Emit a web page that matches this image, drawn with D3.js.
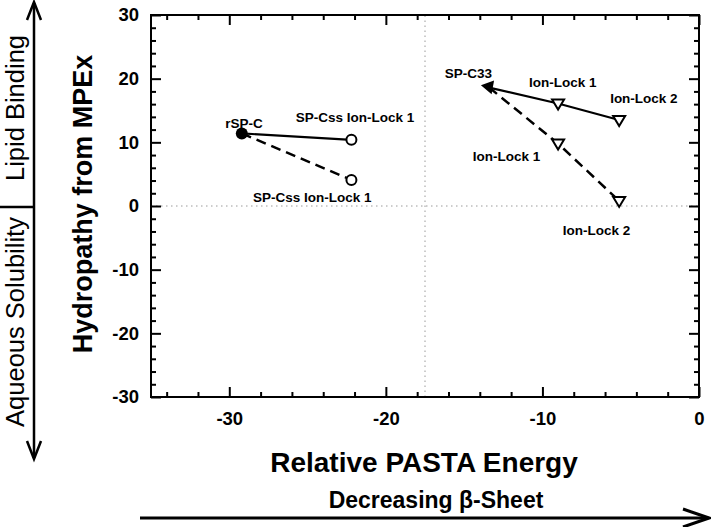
<!DOCTYPE html>
<html>
<head>
<meta charset="utf-8">
<script src="https://cdn.jsdelivr.net/npm/d3@7"></script>
<style>
  html, body { margin: 0; padding: 0; background: #fff; }
  svg { display: block; }
  text { font-family: "Liberation Sans", Arial, Helvetica, sans-serif; fill: #000; }
</style>
</head>
<body>
<svg id="chart" width="711" height="527"></svg>
<script>
// ---------------- data ----------------
const xDomain = [-35, 0];
const yDomain = [-30, 30];
const xMajorTicks = [-30, -20, -10, 0];
const xMinorTicks = [-34, -32, -28, -26, -24, -22, -18, -16, -14, -12, -8, -6, -4, -2];
const yMajorTicks = [-30, -20, -10, 0, 10, 20, 30];
const yMinorTicks = [-28, -26, -24, -22, -18, -16, -14, -12, -8, -6, -4, -2,
                     2, 4, 6, 8, 12, 14, 16, 18, 22, 24, 26, 28];
const refLineX = -17.5;
const refLineY = 0;

// SP-Css family (circles), starting at rSP-C
const cssSolidX  = [-29.2, -22.2];
const cssSolidY  = [11.4, 10.4];
const cssDashedX = [-29.2, -22.2];
const cssDashedY = [11.4, 4.1];

// SP-C33 family (triangles)
const c33SolidX  = [-13.4, -9.0, -5.1];
const c33SolidY  = [18.6, 16.1, 13.5];
const c33DashedX = [-13.4, -9.0, -5.1];
const c33DashedY = [18.6, 9.8, 0.8];

// annotation labels (text, anchor in data units)
const labelText = ["rSP-C", "SP-Css Ion-Lock 1", "SP-Css Ion-Lock 1", "SP-C33",
                   "Ion-Lock 1", "Ion-Lock 2", "Ion-Lock 1", "Ion-Lock 2"];
const labelX = [-29.06, -21.97, -24.7, -14.73, -8.7, -3.52, -12.3, -6.55];
const labelY = [13.0, 13.97, 1.46, 20.9, 19.5, 16.95, 7.85, -3.77];

const xTitle = "Relative PASTA Energy";
const yTitle = "Hydropathy from MPEx";
const bottomArrowText = "Decreasing \u03B2-Sheet";
const sideTop = "Lipid Binding";
const sideBottom = "Aqueous Solubility";

// ---------------- layout ----------------
const plot = { left: 151, right: 699, top: 15, bottom: 397 };
const svg = d3.select("#chart");

const x = d3.scaleLinear().domain(xDomain).range([plot.left, plot.right]);
const y = d3.scaleLinear().domain(yDomain).range([plot.bottom, plot.top]);
const fmt = d => String(d);

// reference dotted lines
svg.append("line")
  .attr("x1", x(refLineX)).attr("x2", x(refLineX))
  .attr("y1", y(yDomain[0])).attr("y2", y(yDomain[1]))
  .attr("stroke", "#9a9a9a").attr("stroke-width", 1).attr("stroke-dasharray", "1.5,3.5");
svg.append("line")
  .attr("x1", x(xDomain[0])).attr("x2", x(xDomain[1]))
  .attr("y1", y(refLineY)).attr("y2", y(refLineY))
  .attr("stroke", "#9a9a9a").attr("stroke-width", 1).attr("stroke-dasharray", "1.5,3.5");

// axes (ticks inward on all sides)
function styleAxis(g) {
  g.select(".domain").remove();
  g.selectAll(".tick line").attr("stroke", "#000").attr("stroke-width", 2);
  g.selectAll(".tick text")
    .style("font-size", "18.5px").style("font-weight", "bold")
    .attr("fill", "#000");
}
svg.append("g").attr("transform", `translate(0,${plot.bottom})`)
  .call(d3.axisBottom(x).tickValues(xMajorTicks).tickSizeInner(-10).tickSizeOuter(0).tickPadding(15).tickFormat(fmt))
  .call(styleAxis);
svg.append("g").attr("transform", `translate(0,${plot.bottom})`)
  .call(d3.axisBottom(x).tickValues(xMinorTicks).tickSizeInner(-5).tickSizeOuter(0).tickFormat(""))
  .call(styleAxis);
svg.append("g").attr("transform", `translate(0,${plot.top})`)
  .call(d3.axisTop(x).tickValues(xMajorTicks).tickSizeInner(-10).tickSizeOuter(0).tickFormat(""))
  .call(styleAxis);
svg.append("g").attr("transform", `translate(0,${plot.top})`)
  .call(d3.axisTop(x).tickValues(xMinorTicks).tickSizeInner(-5).tickSizeOuter(0).tickFormat(""))
  .call(styleAxis);
svg.append("g").attr("transform", `translate(${plot.left},0)`)
  .call(d3.axisLeft(y).tickValues(yMajorTicks).tickSizeInner(-10).tickSizeOuter(0).tickPadding(12).tickFormat(fmt))
  .call(styleAxis);
svg.append("g").attr("transform", `translate(${plot.left},0)`)
  .call(d3.axisLeft(y).tickValues(yMinorTicks).tickSizeInner(-5).tickSizeOuter(0).tickFormat(""))
  .call(styleAxis);
svg.append("g").attr("transform", `translate(${plot.right},0)`)
  .call(d3.axisRight(y).tickValues(yMajorTicks).tickSizeInner(-10).tickSizeOuter(0).tickFormat(""))
  .call(styleAxis);
svg.append("g").attr("transform", `translate(${plot.right},0)`)
  .call(d3.axisRight(y).tickValues(yMinorTicks).tickSizeInner(-5).tickSizeOuter(0).tickFormat(""))
  .call(styleAxis);

// frame
svg.append("rect")
  .attr("x", plot.left).attr("y", plot.top)
  .attr("width", plot.right - plot.left).attr("height", plot.bottom - plot.top)
  .attr("fill", "none").attr("stroke", "#000").attr("stroke-width", 2);

// lines
const line = d3.line().x(d => x(d[0])).y(d => y(d[1]));
function drawSeries(xs, ys, dashed) {
  svg.append("path")
    .datum(d3.zip(xs, ys))
    .attr("d", line)
    .attr("fill", "none").attr("stroke", "#000")
    .attr("stroke-width", dashed ? 2.5 : 2.2)
    .attr("stroke-dasharray", dashed ? "10,6" : null);
}
drawSeries(cssSolidX, cssSolidY, false);
drawSeries(cssDashedX, cssDashedY, true);
drawSeries(c33SolidX, c33SolidY, false);
drawSeries(c33DashedX, c33DashedY, true);

// markers
const circlePts = [[cssSolidX[1], cssSolidY[1]], [cssDashedX[1], cssDashedY[1]]];
svg.selectAll("circle.open").data(circlePts).join("circle")
  .attr("class", "open")
  .attr("cx", d => x(d[0])).attr("cy", d => y(d[1])).attr("r", 5)
  .attr("fill", "#fff").attr("stroke", "#000").attr("stroke-width", 2);
svg.append("circle")
  .attr("cx", x(cssSolidX[0])).attr("cy", y(cssSolidY[0])).attr("r", 6)
  .attr("fill", "#000");

const triPath = "M-6,-4L6,-4L0,6Z";
const triPts = [[c33SolidX[1], c33SolidY[1]], [c33SolidX[2], c33SolidY[2]],
                [c33DashedX[1], c33DashedY[1]], [c33DashedX[2], c33DashedY[2]]];
svg.selectAll("path.tri").data(triPts).join("path")
  .attr("class", "tri")
  .attr("d", triPath)
  .attr("transform", d => `translate(${x(d[0])},${y(d[1])})`)
  .attr("fill", "#fff").attr("stroke", "#000").attr("stroke-width", 2);
svg.append("path")
  .attr("d", "M-7,-5L7,-5L0,7Z")
  .attr("transform", `translate(${x(c33SolidX[0])},${y(c33SolidY[0])}) rotate(-20)`)
  .attr("fill", "#000");

// labels
svg.selectAll("text.lbl").data(d3.range(labelText.length)).join("text")
  .attr("class", "lbl")
  .attr("x", i => x(labelX[i])).attr("y", i => y(labelY[i]))
  .attr("dy", "0.36em")
  .attr("text-anchor", "middle")
  .style("font-size", "13.5px").style("font-weight", "bold")
  .text(i => labelText[i]);

// axis titles
svg.append("text")
  .attr("x", 424).attr("y", 472)
  .attr("text-anchor", "middle")
  .style("font-size", "28px").style("font-weight", "bold")
  .text(xTitle);
svg.append("text")
  .attr("transform", "translate(92,204) rotate(-90)")
  .attr("text-anchor", "middle")
  .style("font-size", "27px").style("font-weight", "bold")
  .text(yTitle);

// bottom arrow
svg.append("text")
  .attr("x", 436).attr("y", 508)
  .attr("text-anchor", "middle")
  .style("font-size", "23px").style("font-weight", "bold")
  .text(bottomArrowText);
svg.append("line").attr("x1", 140).attr("x2", 708).attr("y1", 518).attr("y2", 518)
  .attr("stroke", "#000").attr("stroke-width", 3);
svg.append("path").attr("d", "M683,509L709,518L683,527")
  .attr("fill", "none").attr("stroke", "#000").attr("stroke-width", 3);

// left double arrow
svg.append("line").attr("x1", 34).attr("x2", 34).attr("y1", 3).attr("y2", 458)
  .attr("stroke", "#000").attr("stroke-width", 2.5);
svg.append("path").attr("d", "M27,20L34,2L41,20")
  .attr("fill", "none").attr("stroke", "#000").attr("stroke-width", 2.5);
svg.append("path").attr("d", "M27,441L34,459L41,441")
  .attr("fill", "none").attr("stroke", "#000").attr("stroke-width", 2.5);
svg.append("line").attr("x1", 0).attr("x2", 34).attr("y1", 207).attr("y2", 207)
  .attr("stroke", "#000").attr("stroke-width", 2.5);
svg.append("text")
  .attr("transform", "translate(24,108) rotate(-90)")
  .attr("text-anchor", "middle")
  .style("font-size", "25.5px")
  .text(sideTop);
svg.append("text")
  .attr("transform", "translate(24,322) rotate(-90)")
  .attr("text-anchor", "middle")
  .style("font-size", "25.5px")
  .text(sideBottom);
</script>
</body>
</html>
